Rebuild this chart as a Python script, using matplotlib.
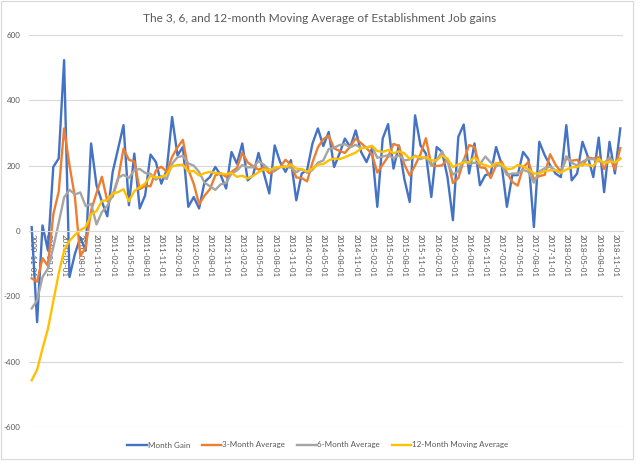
import matplotlib
matplotlib.use('Agg')
import matplotlib.pyplot as plt
import pandas as pd
from matplotlib.patches import Rectangle

plt.rcParams['font.family'] = ['Lato', 'DejaVu Sans']
plt.rcParams['axes.unicode_minus'] = False

# monthly categories, 2009-11 through 2018-12
months = pd.date_range('2009-11-01', periods=110, freq='MS').strftime('%Y-%m-%d').tolist()

month_gain = [
    12, -279, 17, -59, 196, 222, 523, -141, -70, -20, -60, 268,
    140, 90, 45, 181, 252, 324, 79, 237, 69, 109, 234, 211,
    145, 186, 349, 232, 257, 74, 104, 69, 150, 165, 196, 171,
    130, 242, 206, 268, 155, 171, 239, 176, 115, 262, 211, 181,
    217, 94, 176, 186, 268, 314, 260, 303, 196, 237, 283, 257,
    308, 242, 211, 252, 74, 283, 327, 191, 262, 160, 89, 354,
    262, 237, 104, 257, 242, 165, 33, 288, 326, 176, 268, 140,
    171, 176, 257, 206, 74, 171, 171, 242, 220, 12, 273, 232,
    201, 176, 165, 324, 155, 176, 273, 227, 165, 286, 119, 273,
    176, 314,
]
avg_3 = [
    -145, -155, -83, -107, 51, 120, 314, 201, 104, -77, -50, 63,
    116, 166, 92, 105, 159, 252, 218, 213, 128, 138, 137, 185,
    197, 181, 227, 256, 279, 188, 145, 82, 108, 128, 170, 177,
    166, 181, 193, 239, 210, 198, 188, 195, 177, 184, 196, 218,
    203, 164, 162, 152, 210, 256, 281, 292, 253, 245, 239, 259,
    283, 269, 254, 235, 179, 203, 228, 267, 260, 204, 170, 201,
    235, 284, 201, 199, 201, 221, 147, 162, 216, 263, 257, 195,
    193, 162, 201, 213, 179, 150, 139, 195, 211, 158, 168, 172,
    235, 203, 181, 222, 215, 218, 201, 225, 222, 226, 190, 226,
    189, 254,
]
avg_6 = [
    -237, -212, -141, -115, -50, 25, 103, 126, 112, 118, 76, 83,
    20, 58, 77, 111, 163, 172, 162, 186, 190, 178, 175, 157,
    168, 159, 206, 226, 230, 207, 200, 181, 148, 137, 126, 143,
    147, 176, 185, 202, 195, 195, 214, 203, 187, 186, 196, 197,
    194, 180, 190, 178, 187, 209, 216, 251, 255, 263, 266, 256,
    264, 254, 256, 259, 224, 228, 232, 223, 232, 216, 219, 231,
    220, 227, 201, 217, 243, 211, 173, 182, 219, 205, 209, 205,
    228, 210, 198, 203, 171, 176, 176, 187, 181, 148, 182, 192,
    197, 186, 177, 229, 209, 200, 212, 220, 220, 214, 208, 224,
    208, 222,
]
avg_12 = [
    -457, -425, -360, -300, -215, -130, -60, -30, -12, 2, 12, 51,
    61, 92, 95, 115, 119, 128, 91, 122, 134, 145, 169, 164,
    165, 173, 198, 202, 203, 182, 184, 170, 177, 181, 178, 175,
    174, 178, 166, 169, 161, 169, 180, 189, 186, 194, 196, 196,
    204, 191, 189, 182, 191, 203, 205, 216, 222, 220, 226, 233,
    240, 253, 255, 261, 245, 242, 248, 238, 244, 238, 221, 229,
    226, 225, 216, 217, 231, 221, 196, 204, 210, 211, 226, 208,
    201, 196, 208, 204, 190, 191, 202, 198, 189, 176, 176, 184,
    186, 186, 179, 188, 195, 196, 204, 203, 198, 221, 208, 212,
    210, 221,
]

series = [
    ('Month Gain', month_gain, '#4472C4'),
    ('3-Month Average', avg_3, '#ED7D31'),
    ('6-Month Average', avg_6, '#A5A5A5'),
    ('12-Month Moving Average', avg_12, '#FFC000'),
]

W, H = 640, 462
fig = plt.figure(figsize=(W / 100, H / 100), dpi=100)
ax = fig.add_axes([29 / W, (H - 427) / H, 594 / W, 392 / H])

x = list(range(len(months)))
for name, vals, color in series:
    ax.plot(x, vals, color=color, lw=1.7, label=name, solid_joinstyle='round')

ax.set_xlim(-0.5, len(months) - 0.5)
ax.set_ylim(-600, 600)
ax.set_yticks(range(-600, 601, 200))
ax.set_xticks(x[::3])
ax.set_xticklabels(months[::3])
ax.set_axisbelow(True)
ax.yaxis.grid(True, color='#d9d9d9', lw=0.8)

for side in ['left', 'top', 'right']:
    ax.spines[side].set_visible(False)
ax.spines['bottom'].set_position(('data', 0))
ax.spines['bottom'].set_color('#d9d9d9')
ax.spines['bottom'].set_linewidth(0.8)

ax.tick_params(axis='y', length=0, pad=6, labelsize=5.8, labelcolor='#595959')
ax.tick_params(axis='x', length=0, pad=2, labelsize=5.8, labelcolor='#595959',
               labelrotation=270)

fig.text(0.5, 1 - 19 / H, 'The 3, 6, and 12-month Moving Average of Establishment Job gains',
         ha='center', va='center', fontsize=8.6, color='#595959')

fig.legend(loc='center', bbox_to_anchor=(318 / W, 1 - 445 / H), ncol=4, frameon=False,
           fontsize=5.8, labelcolor='#595959', handlelength=2.4, handletextpad=0.1,
           columnspacing=1.5)

fig.patches.append(Rectangle((1 / W, 3 / H), 632 / W, 458 / H, transform=fig.transFigure,
                             fill=False, ec='#d9d9d9', lw=0.8))

fig.savefig('out.png', dpi=100)
